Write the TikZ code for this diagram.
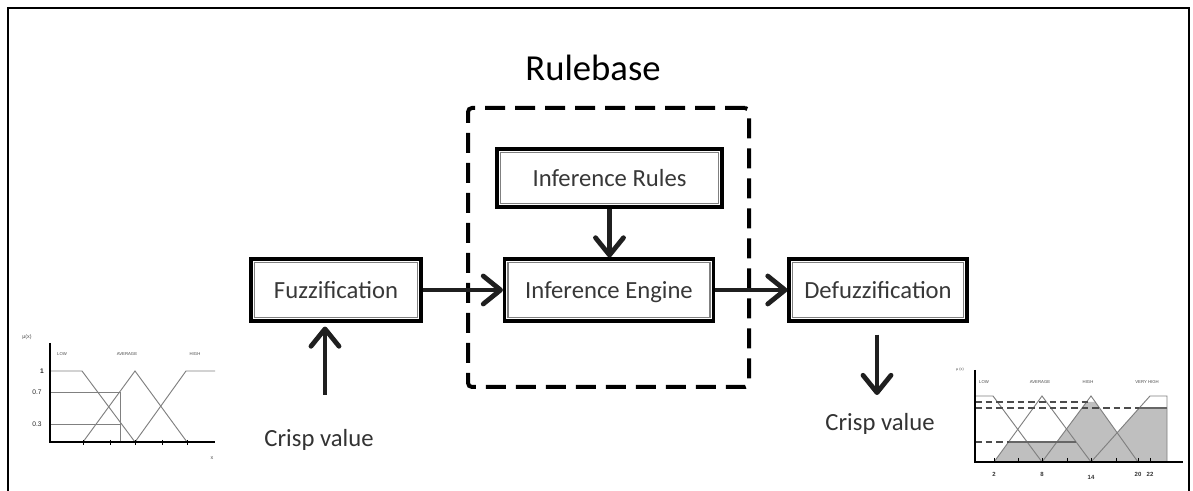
\documentclass[tikz,border=0pt]{standalone}
\usepackage{fontspec}
\setmainfont{Carlito}
\newfontfamily\chartfont{Liberation Sans}
\usetikzlibrary{arrows.meta}
\begin{document}
\begin{tikzpicture}[x=0.75pt,y=-0.75pt,
  blockbox/.style={draw=black, line width=2.3pt, fill=white, minimum height=46.5pt, inner sep=0pt,
    text height=14.5pt, text depth=2pt,
    font=\fontsize{18.5}{20}\selectfont, text=black!78,
    path picture={\draw[black!50, line width=1.1pt] ([shift={(2.6pt,2.6pt)}]path picture bounding box.south west) rectangle ([shift={(-2.6pt,-2.6pt)}]path picture bounding box.north east);}},
  flow/.style={line width=3.3pt, black!88, -{Straight Barb[length=13pt,width=21pt,line width=3.6pt,round]}},
  plain/.style={font=\fontsize{18.5}{20}\selectfont, text=black!80, inner sep=0pt},
  cline/.style={black!50, line width=0.7pt},
  cdash/.style={black!70, line width=0.9pt, dash pattern=on 5pt off 3pt},
  axisline/.style={black, line width=1.4pt},
  tinylab/.style={font=\chartfont\fontsize{3.2}{4}\selectfont, text=black!70, inner sep=0pt},
  smalllab/.style={font=\chartfont\fontsize{5}{6}\selectfont, text=black!85, inner sep=0pt},
  ticklab/.style={font=\chartfont\bfseries\fontsize{4.5}{5}\selectfont, text=black!80, inner sep=0pt}
]
\useasboundingbox (0,0) rectangle (1193,491);
\fill[white] (0,0) rectangle (1193,491);

% outer frame
\draw[black, line width=1.4pt] (8,495) -- (8,8) -- (1189,8) -- (1189,495);

% rulebase dashed box
\node[draw=black, line width=3pt, dash pattern=on 15pt off 7.5pt, rounded corners=3pt,
      minimum width=210.75pt, minimum height=209.25pt, inner sep=0pt] (rb) at (608.5,247.5) {};
\node[font=\fontsize{27.5}{30}\selectfont, inner sep=0pt] (rbl) at (593,68) {Rulebase};

% blocks
\node[blockbox, minimum width=127.5pt] (fuzz) at (336,290) {Fuzzification};
\node[blockbox, minimum width=156.75pt] (engine) at (609,290) {Inference Engine};
\node[blockbox, minimum width=133.5pt] (defuzz) at (878,290) {Defuzzification};
\node[blockbox, minimum width=168.75pt, minimum height=43.5pt] (rules) at (609.5,178) {Inference Rules};

% connectors
\draw[flow] (fuzz.east) -- (engine.west);
\draw[flow] (engine.east) -- (defuzz.west);
\draw[flow] (rules.south) -- (rules.south |- engine.north);
\coordinate (cin) at (325,395);
\coordinate (cout) at (877,395);
\draw[flow, shorten >=3pt] (cin) -- (cin |- fuzz.south);
\draw[flow, shorten <=9pt] (cout |- defuzz.south) -- (cout);

\node[plain] (cv1) at (319,440) {Crisp value};
\node[plain] (cv2) at (880,424) {Crisp value};

% ---------- left chart ----------
\draw[cline] (50,371) -- (82,371) -- (135,442);
\draw[cline] (83,442) -- (135,371) -- (187,442);
\draw[cline] (135,442) -- (186,371) -- (215,371);
\draw[cline] (50,392) -- (120,392) -- (120,442);
\draw[cline] (50,424) -- (121,424);
\draw[axisline] (50,343) -- (50,442) -- (215,442);
\foreach \t in {83,110,135,162,187} \draw[black, line width=0.7pt] (\t,440) -- (\t,445);
\node[tinylab, font=\chartfont\fontsize{4}{5}\selectfont] (lmu) at (27,337) {μ(x)};
\node[tinylab] (llow) at (62,354) {LOW};
\node[tinylab] (lavg) at (127,354) {AVERAGE};
\node[tinylab] (lhigh) at (195,354) {HIGH};
\node[smalllab, font=\chartfont\bfseries\fontsize{5}{6}\selectfont] (l1) at (42,371) {1};
\node[smalllab] (l07) at (37,392) {0.7};
\node[smalllab] (l03) at (37,424) {0.3};
\node[tinylab, font=\chartfont\fontsize{4}{5}\selectfont] (lx) at (212,458) {x};

% ---------- right chart ----------
\fill[black!25] (994,462) -- (1008.5,442) -- (1056.8,442) -- (1086.5,402) -- (1095,402) -- (1117.2,432.7) -- (1139,408) -- (1167,408) -- (1167,462) -- cycle;
\draw[cline] (975,396) -- (993,396) -- (1042,462);
\draw[cline] (994,462) -- (1042,396) -- (1091,462);
\draw[cline] (1042,462) -- (1091,396) -- (1138,462);
\draw[cline] (1091,462) -- (1150,396) -- (1167,396) -- (1167,462);
\draw[black!60, line width=0.8pt] (1008.5,442) -- (1076,442);
\draw[black!60, line width=0.8pt] (1139,408) -- (1167,408);
\draw[cdash] (975,402) -- (1088,402);
\draw[cdash] (975,408) -- (1139,408);
\draw[cdash] (975,442) -- (1008.5,442);
\draw[axisline] (975,370) -- (975,462) -- (1183,462);
\foreach \t in {994,1018,1042,1067,1091,1116,1138,1150} \draw[black, line width=0.7pt] (\t,458) -- (\t,462);
\node[tinylab, font=\chartfont\fontsize{2.8}{3}\selectfont] (rmu) at (960,370) {μ (x)};
\node[tinylab] (rlow) at (984,382) {LOW};
\node[tinylab] (ravg) at (1040,382) {AVERAGE};
\node[tinylab] (rhigh) at (1088,382) {HIGH};
\node[tinylab] (rvh) at (1147,382) {VERY HIGH};
\node[ticklab] (t2) at (994,474) {2};
\node[ticklab] (t8) at (1042,474) {8};
\node[ticklab] (t14) at (1091,477) {14};
\node[ticklab] (t20) at (1138,474) {20};
\node[ticklab] (t22) at (1150,474) {22};
\end{tikzpicture}
\end{document}
